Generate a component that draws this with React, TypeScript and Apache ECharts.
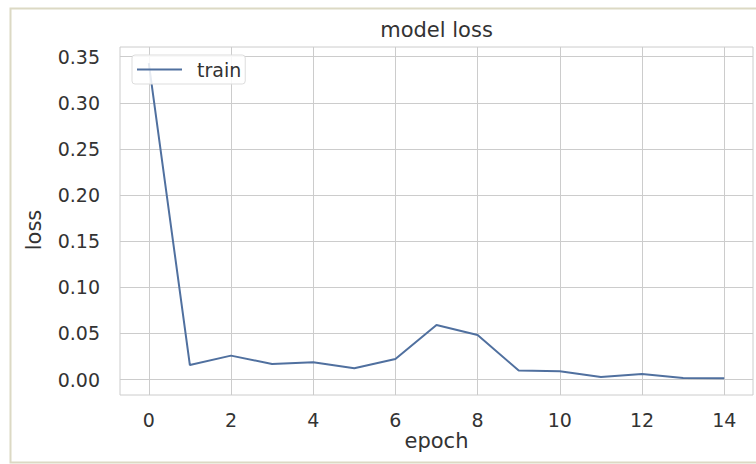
import React, { useEffect, useRef } from "react";
import * as echarts from "echarts";

const epochs = [0, 1, 2, 3, 4, 5, 6, 7, 8, 9, 10, 11, 12, 13, 14];
const trainLoss = [0.343, 0.0158, 0.026, 0.0169, 0.0188, 0.0123, 0.0223, 0.0592, 0.0484, 0.0098, 0.009, 0.0028, 0.0061, 0.0017, 0.0014];
const xTicks = [0, 2, 4, 6, 8, 10, 12, 14];
const yTicks = [0, 0.05, 0.1, 0.15, 0.2, 0.25, 0.3, 0.35];

const FONT = "DejaVu Sans";
const LINE_COLOR = "#50709f";

export default function App() {
  const ref = useRef<HTMLDivElement>(null);
  useEffect(() => {
    if (!ref.current) return;
    const chart = echarts.init(ref.current, null, { renderer: "svg" });
    chart.setOption({
      animation: false,
      backgroundColor: "#ffffff",
      textStyle: { fontFamily: FONT },
      grid: {
        left: 120,
        right: 3,
        top: 47,
        bottom: 69,
        show: true,
        borderColor: "#cccccc",
        borderWidth: 1,
      },
      legend: {
        data: [{ name: "train", icon: "rect" }],
        left: 132,
        top: 55,
        orient: "vertical",
        backgroundColor: "rgba(255,255,255,0.85)",
        borderColor: "#dddddd",
        borderWidth: 1,
        borderRadius: 3,
        padding: [5, 4, 5, 5],
        itemWidth: 45,
        itemHeight: 2,
        itemStyle: { color: LINE_COLOR },
        textStyle: { fontFamily: FONT, fontSize: 19, color: "#333333", padding: [0, 0, 0, 10] },
      },
      xAxis: {
        type: "value",
        min: -0.7,
        max: 14.7,
        axisLine: { show: false },
        axisTick: { show: false, customValues: xTicks },
        axisLabel: {
          customValues: xTicks,
          fontFamily: FONT,
          fontSize: 19,
          color: "#333333",
          margin: 15,
        },
        splitLine: { show: true, lineStyle: { color: "#cccccc", width: 1 } },
      },
      yAxis: {
        type: "value",
        min: -0.0167,
        max: 0.3605,
        axisLine: { show: false },
        axisTick: { show: false, customValues: yTicks },
        axisLabel: {
          customValues: yTicks,
          fontFamily: FONT,
          fontSize: 19,
          color: "#333333",
          margin: 20,
          formatter: (v: number) => v.toFixed(2),
        },
        splitLine: { show: true, lineStyle: { color: "#cccccc", width: 1 } },
      },
      series: [
        {
          name: "train",
          type: "line",
          data: epochs.map((e, i) => [e, trainLoss[i]]),
          symbol: "none",
          lineStyle: { color: LINE_COLOR, width: 2 },
          itemStyle: { color: LINE_COLOR },
        },
      ],
      graphic: [
        {
          type: "rect",
          shape: { x: 10.5, y: 8.5, width: 800, height: 454 },
          style: { fill: "none", stroke: "#dcd9c4", lineWidth: 2 },
          silent: true,
          z: 100,
        },
        {
          type: "text",
          x: 436.5,
          y: 30,
          style: {
            text: "model loss",
            fontFamily: FONT,
            fontSize: 21,
            fill: "#333333",
            align: "center",
            verticalAlign: "middle",
          },
        },
        {
          type: "text",
          x: 436.5,
          y: 441,
          style: {
            text: "epoch",
            fontFamily: FONT,
            fontSize: 21,
            fill: "#333333",
            align: "center",
            verticalAlign: "middle",
          },
        },
        {
          type: "text",
          x: 34,
          y: 230,
          rotation: Math.PI / 2,
          style: {
            text: "loss",
            fontFamily: FONT,
            fontSize: 21,
            fill: "#333333",
            align: "center",
            verticalAlign: "middle",
          },
        },
      ],
    });
    return () => chart.dispose();
  }, []);
  return <div ref={ref} style={{ width: 756, height: 464, position: "absolute", left: 0, top: 0 }} />;
}
